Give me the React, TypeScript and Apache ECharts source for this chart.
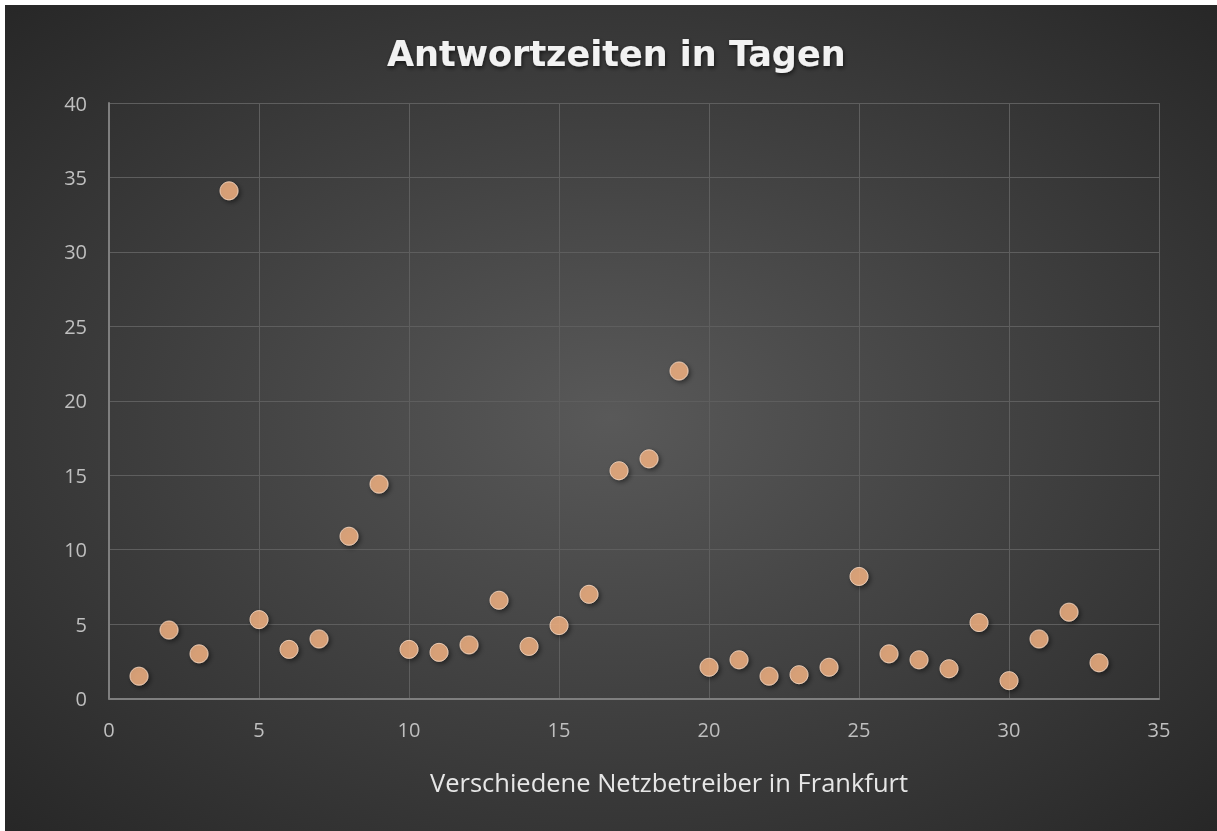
import React, { useEffect, useRef } from "react";
import * as echarts from "echarts";

const xValues = [1, 2, 3, 4, 5, 6, 7, 8, 9, 10, 11, 12, 13, 14, 15, 16, 17, 18, 19, 20, 21, 22, 23, 24, 25, 26, 27, 28, 29, 30, 31, 32, 33];
const yValues = [1.5, 4.6, 3.0, 34.1, 5.3, 3.3, 4.0, 10.9, 14.4, 3.3, 3.1, 3.6, 6.6, 3.5, 4.9, 7.0, 15.3, 16.1, 22.0, 2.1, 2.6, 1.5, 1.6, 2.1, 8.2, 3.0, 2.6, 2.0, 5.1, 1.2, 4.0, 5.8, 2.4];
const titleText = "Antwortzeiten in Tagen";
const xAxisTitle = "Verschiedene Netzbetreiber in Frankfurt";

export default function App() {
  const ref = useRef<HTMLDivElement>(null);
  useEffect(() => {
    if (!ref.current) return;
    const chart = echarts.init(ref.current, null, { renderer: "svg" });
    const data = xValues.map((x, i) => [x, yValues[i]]);
    chart.setOption({
      animation: false,
      backgroundColor: {
        type: "radial",
        x: 0.5,
        y: 0.5,
        r: 0.72,
        colorStops: [
          { offset: 0, color: "#595959" },
          { offset: 1, color: "#262626" },
        ],
      },
      title: {
        text: titleText,
        left: 382,
        top: 31,
        padding: 0,
        textStyle: {
          color: "#f2f2f2",
          fontSize: 35,
          fontWeight: "bold",
          fontFamily: "DejaVu Sans",
          textShadowColor: "rgba(0,0,0,0.6)",
          textShadowBlur: 4,
          textShadowOffsetX: 1,
          textShadowOffsetY: 2,
        },
      },
      grid: { left: 104, top: 98, width: 1050, height: 595.5 },
      xAxis: {
        type: "value",
        min: 0,
        max: 35,
        interval: 5,
        name: xAxisTitle,
        nameLocation: "middle",
        nameGap: 83,
        nameTextStyle: {
          color: "#e6e6e6",
          fontSize: 25.5,
          fontFamily: "Open Sans",
          verticalAlign: "middle",
          padding: [0, 0, 0, 70],
        },
        axisLine: { show: true, lineStyle: { color: "#7f7f7f", width: 2 } },
        axisTick: { show: false },
        axisLabel: { color: "#bfbfbf", fontSize: 20, fontFamily: "Open Sans", margin: 21 },
        splitLine: { show: true, lineStyle: { color: "#5e5e5e", width: 1 } },
      },
      yAxis: {
        type: "value",
        min: 0,
        max: 40,
        interval: 5,
        axisLine: { show: true, lineStyle: { color: "#7f7f7f", width: 2 } },
        axisTick: { show: false },
        axisLabel: { color: "#bfbfbf", fontSize: 20, fontFamily: "Open Sans", margin: 22 },
        splitLine: { show: true, lineStyle: { color: "#5e5e5e", width: 1 } },
      },
      series: [
        {
          type: "scatter",
          data,
          symbol: "circle",
          symbolSize: 18,
          itemStyle: {
            color: "#F5B485",
            borderColor: "#fcdcc4",
            borderWidth: 1,
            shadowColor: "rgba(0,0,0,0.6)",
            shadowBlur: 5,
            shadowOffsetX: 2,
            shadowOffsetY: 2,
          },
        },
      ],
    });
    return () => chart.dispose();
  }, []);
  return (
    <div
      ref={ref}
      style={{ position: "fixed", left: 5, top: 5, width: 1212, height: 826 }}
    />
  );
}
